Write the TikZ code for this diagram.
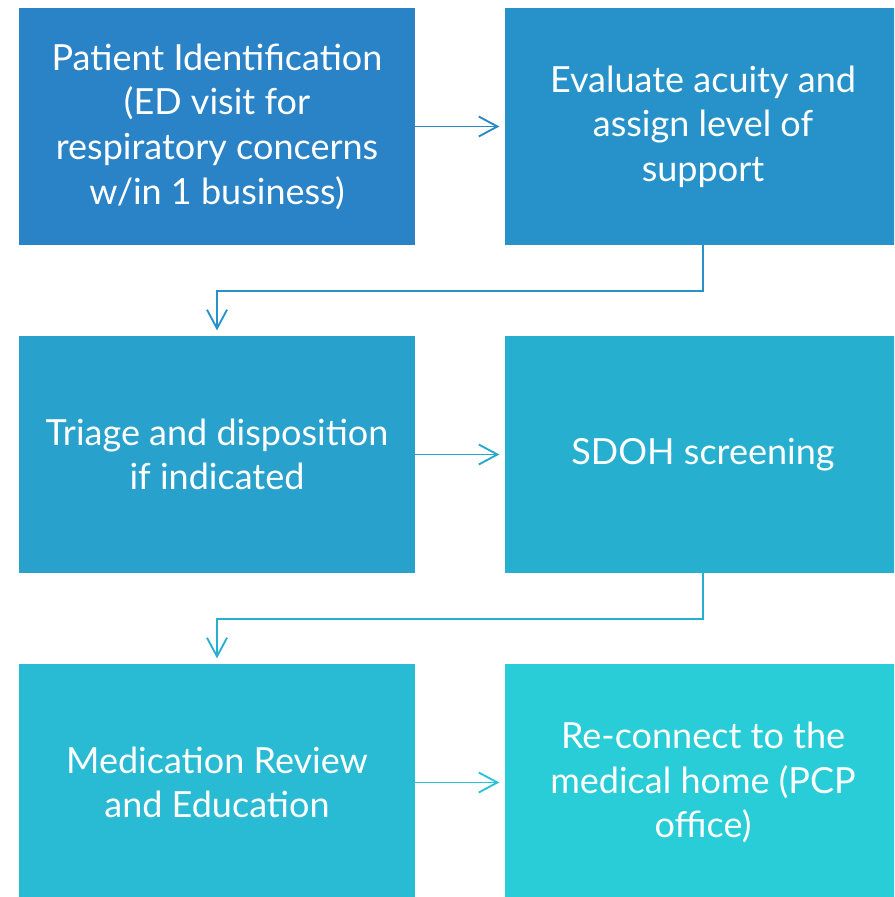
\documentclass[tikz,border=0pt]{standalone}
\usepackage{fontspec}
\setmainfont{Lato}
\usepackage{tikz}
\usetikzlibrary{positioning,arrows.meta}

\definecolor{stepA}{RGB}{42,130,199}
\definecolor{stepB}{RGB}{39,146,201}
\definecolor{stepC}{RGB}{40,161,204}
\definecolor{stepD}{RGB}{39,175,208}
\definecolor{stepE}{RGB}{40,187,211}
\definecolor{stepF}{RGB}{41,205,216}

\tikzset{
  flowbox/.style={rectangle, minimum width=297pt, minimum height=177.75pt,
    inner sep=0pt, text=white, align=center,
    font=\fontsize{27}{33.5}\selectfont},
  flow/.style={line width=1.4pt, shorten >=4pt,
    -{Straight Barb[length=14pt,width=15pt,line width=1.4pt]}}
}

\begin{document}
\begin{tikzpicture}[x=0.75pt,y=-0.75pt,node distance=246pt and 364.5pt,on grid]
  \clip (0,0) rectangle (894,897);
  \node[flowbox,fill=stepA] (ident)  at (217,126.5)   {Patient Identification\\(ED visit for\\respiratory concerns\\w/in 1 business)};
  \node[flowbox,fill=stepB] (acuity) [right=of ident]  {Evaluate acuity and\\assign level of\\support};
  \node[flowbox,fill=stepC] (triage) [below=of ident]  {Triage and disposition\\if indicated};
  \node[flowbox,fill=stepD] (sdoh)   [right=of triage] {SDOH screening};
  \node[flowbox,fill=stepE] (meds)   [below=of triage] {Medication Review\\and Education};
  \node[flowbox,fill=stepF] (pcp)    [right=of meds]   {Re-connect to the\\medical home (PCP\\office)};

  % left to right in each row
  \path[flow]
   (ident)  edge[draw=stepA!60!stepB] (acuity)
   (triage) edge[draw=stepC!60!stepD] (sdoh)
   (meds)   edge[draw=stepE!50!stepF] (pcp);

  % back down to the next row
  \draw[flow,stepB] (acuity.south) -- ++(0,-34pt) -| (triage.north);
  \draw[flow,stepD] (sdoh.south)   -- ++(0,-34pt) -| (meds.north);
\end{tikzpicture}
\end{document}
